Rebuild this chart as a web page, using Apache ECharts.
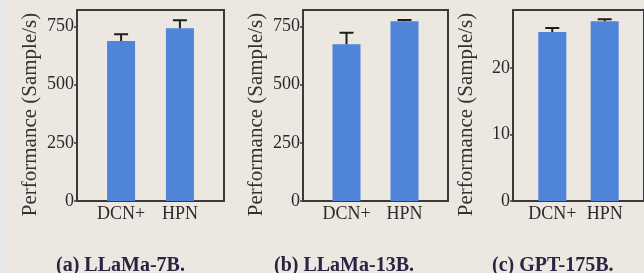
<!DOCTYPE html>
<html>
<head>
<meta charset="utf-8">
<script src="https://cdn.jsdelivr.net/npm/echarts@6/dist/echarts.min.js"></script>
<style>
  html, body { margin: 0; padding: 0; background: #ece8e1; }
  #chart { width: 644px; height: 273px; }
</style>
</head>
<body>
<div id="chart"></div>
<script>
// values
let categories = ['DCN+', 'HPN']
let llama7b = [687, 742]
let llama7bErr = [29, 34]
let llama13b = [673, 772]
let llama13bErr = [49, 5]
let gpt175b = [25.4, 27.0]
let gpt175bErr = [0.6, 0.3]
let captions = ['(a) LLaMa-7B.', '(b) LLaMa-13B.', '(c) GPT-175B.']

let serif = '"Liberation Serif", "Times New Roman", serif'
let panels = [
  { left: 77, width: 147, max: 820, interval: 250, values: llama7b, errs: llama7bErr, cap: 124 },
  { left: 303, width: 145, max: 820, interval: 250, values: llama13b, errs: llama13bErr, cap: 342 },
  { left: 513, width: 147, max: 28.7, interval: 10, values: gpt175b, errs: gpt175bErr, cap: 560 }
]

let chart = echarts.init(document.getElementById('chart'))

let grids = [], xAxes = [], yAxes = [], series = [], graphics = []
graphics.push({ type: 'rect', shape: { x: 0, y: 0, width: 7, height: 273 }, style: { fill: '#e7e7e7' }, z: -1 })

panels.forEach(function (p, i) {
  grids.push({
    left: p.left, top: 10, width: p.width, height: 191,
    show: true, borderColor: '#3a3a3a', borderWidth: 2, backgroundColor: 'transparent'
  })
  xAxes.push({
    gridIndex: i, type: 'value', min: -0.75, max: 1.75, interval: 0.25,
    axisLine: { show: false, onZero: false }, axisTick: { show: false }, splitLine: { show: false },
    axisLabel: {
      margin: 4, color: '#2a2a2a', fontFamily: serif, fontSize: 18,
      showMinLabel: false, showMaxLabel: false,
      formatter: function (v) {
        if (v === 0) return categories[0]
        if (v === 1) return categories[1]
        return ''
      }
    }
  })
  yAxes.push({
    gridIndex: i, type: 'value', min: 0, max: p.max, interval: p.interval,
    name: 'Performance (Sample/s)', nameLocation: 'middle', nameGap: 36,
    nameTextStyle: { color: '#333', fontFamily: serif, fontSize: 21, padding: [0, 18, 0, 0] },
    axisLine: { show: false, onZero: false }, splitLine: { show: false },
    axisTick: { show: true, length: 3, lineStyle: { color: '#3a3a3a', width: 1.5 } },
    axisLabel: { margin: 3, color: '#2a2a2a', fontFamily: serif, fontSize: 18, showMaxLabel: false }
  })
  series.push({
    type: 'bar', xAxisIndex: i, yAxisIndex: i, barWidth: 28,
    itemStyle: { color: '#4f84d9' },
    data: p.values.map(function (v, k) { return [k, v] })
  })
  series.push({
    type: 'custom', xAxisIndex: i, yAxisIndex: i, z: 5,
    encode: { x: 0, y: [1, 2] },
    data: p.values.map(function (v, k) { return [k, v, v + p.errs[k]] }),
    renderItem: function (params, api) {
      let lo = api.coord([api.value(0), api.value(1)])
      let hi = api.coord([api.value(0), api.value(2)])
      return {
        type: 'polyline',
        shape: { points: [[lo[0], lo[1]], [hi[0], hi[1]], [hi[0] - 7, hi[1]], [hi[0] + 7, hi[1]]] },
        style: { stroke: '#1e1e1e', lineWidth: 2, fill: null }
      }
    }
  })
  graphics.push({
    type: 'text', left: p.cap - 68, top: 256,
    style: { text: captions[i], font: 'bold 20px ' + serif, fill: '#2d2242' }
  })
})

let option = {
  backgroundColor: '#ece8e1',
  animation: false,
  grid: grids,
  xAxis: xAxes,
  yAxis: yAxes,
  series: series,
  graphic: graphics
}
chart.setOption(option)
</script>
</body>
</html>
